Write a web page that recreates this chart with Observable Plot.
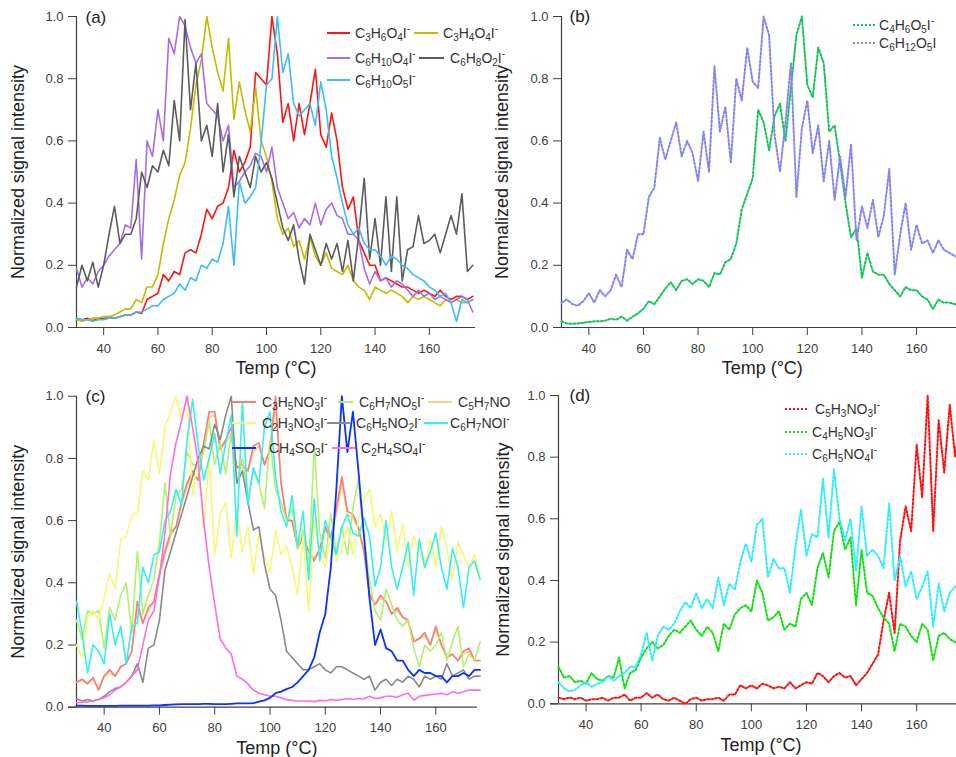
<!DOCTYPE html>
<html>
<head>
<meta charset="utf-8">
<script src="https://cdn.jsdelivr.net/npm/d3@7"></script>
<script src="https://cdn.jsdelivr.net/npm/@observablehq/plot@0.6"></script>
<style>
  body { margin: 0; background: #fff; }
  #fig { position: relative; width: 956px; height: 757px; overflow: hidden; background: #fff; }
  #fig > svg { position: absolute; }
</style>
</head>
<body>
<div id="fig"></div>
<script>
// Desorption temperature grid (°C)
const temp = [
  30, 32, 34, 36, 38, 40, 42, 44, 46, 48,
  50, 52, 54, 56, 58, 60, 62, 64, 66, 68,
  70, 72, 74, 76, 78, 80, 82, 84, 86, 88,
  90, 92, 94, 96, 98, 100, 102, 104, 106, 108,
  110, 112, 114, 116, 118, 120, 122, 124, 126, 128,
  130, 132, 134, 136, 138, 140, 142, 144, 146, 148,
  150, 152, 154, 156, 158, 160, 162, 164, 166, 168,
  170, 172, 174, 176
];
const xTicks = [40, 60, 80, 100, 120, 140, 160];
const yTicks = [0, 0.2, 0.4, 0.6, 0.8, 1.0];

// (a) CHO species
const a_C3H6O4I = [
  0.03, 0.025, 0.03, 0.022, 0.03, 0.028, 0.035, 0.03, 0.035, 0.04,
  0.04, 0.05, 0.045, 0.09, 0.1, 0.11, 0.17, 0.15, 0.18, 0.17,
  0.24, 0.25, 0.24, 0.3, 0.38, 0.35, 0.39, 0.4, 0.45, 0.57,
  0.5, 0.53, 0.58, 0.82, 0.8, 0.78, 1.0, 0.88, 0.66, 0.72,
  0.6, 0.72, 0.62, 0.72, 0.83, 0.62, 0.58, 0.69, 0.6, 0.45,
  0.38, 0.42, 0.28, 0.24, 0.2, 0.2, 0.15, 0.16, 0.15, 0.14,
  0.13, 0.13, 0.12, 0.11, 0.12, 0.11, 0.1, 0.12, 0.1, 0.09,
  0.1, 0.1, 0.09, 0.1
];
const a_C3H4O4I = [
  0.025, 0.02, 0.025, 0.03, 0.03, 0.035, 0.035, 0.04, 0.05, 0.06,
  0.06, 0.09, 0.08, 0.13, 0.13, 0.17, 0.27, 0.35, 0.41, 0.49,
  0.53, 0.64, 0.78, 0.86, 1.0, 0.9, 0.82, 0.76, 0.93, 0.67,
  0.79, 0.7, 0.63, 0.77, 0.6, 0.55, 0.47, 0.35, 0.3, 0.32,
  0.26, 0.28, 0.22, 0.29, 0.23, 0.2, 0.24, 0.19, 0.18, 0.17,
  0.2, 0.15, 0.13, 0.12, 0.09, 0.13, 0.12, 0.11, 0.12, 0.11,
  0.1, 0.08, 0.1, 0.09, 0.1, 0.09, 0.08, 0.07, 0.09, 0.08,
  0.09, 0.08, 0.08, 0.09
];
const a_C6H10O4I = [
  0.19, 0.13, 0.16, 0.14, 0.18, 0.2, 0.23, 0.25, 0.27, 0.33,
  0.32, 0.54, 0.22, 0.6, 0.55, 0.7, 0.6, 0.93, 0.88, 1.0,
  0.97, 0.9, 0.85, 0.88, 0.72, 0.7, 0.68, 0.6, 0.65, 0.45,
  0.47, 0.5, 0.52, 0.56, 0.55, 0.5, 0.58, 0.45, 0.4, 0.35,
  0.37, 0.32, 0.35, 0.33, 0.4, 0.33, 0.38, 0.4, 0.36, 0.35,
  0.3, 0.3, 0.28, 0.19, 0.14, 0.18, 0.15, 0.16, 0.13, 0.15,
  0.14, 0.12, 0.1, 0.12, 0.1, 0.11, 0.09, 0.1, 0.09, 0.08,
  0.09, 0.1, 0.09, 0.05
];
const a_C6H8O2I = [
  0.13, 0.2, 0.15, 0.21, 0.13, 0.2, 0.3, 0.39, 0.27, 0.3,
  0.3, 0.35, 0.5, 0.45, 0.52, 0.5, 0.57, 0.52, 0.73, 0.6,
  0.99, 0.7, 0.85, 0.6, 0.65, 0.55, 0.72, 0.5, 0.62, 0.42,
  0.55, 0.5, 0.45, 0.55, 0.5, 0.53, 0.48, 0.4, 0.32, 0.28,
  0.33, 0.22, 0.14, 0.3, 0.25, 0.2, 0.27, 0.22, 0.27, 0.18,
  0.28, 0.15, 0.3, 0.48, 0.22, 0.35, 0.2, 0.42, 0.18, 0.42,
  0.15, 0.25, 0.26, 0.36, 0.27, 0.28, 0.3, 0.24, 0.3, 0.36,
  0.3, 0.43, 0.18, 0.2
];
const a_C6H10O5I = [
  0.03, 0.025, 0.025, 0.02, 0.025, 0.025, 0.03, 0.03, 0.035, 0.04,
  0.04, 0.05, 0.05, 0.06, 0.07, 0.07, 0.09, 0.1, 0.11, 0.14,
  0.12, 0.16, 0.15, 0.2, 0.19, 0.22, 0.21, 0.27, 0.39, 0.2,
  0.47, 0.4, 0.42, 0.45, 0.59, 0.78, 0.8, 1.0, 0.82, 0.88,
  0.72, 0.68, 0.7, 0.72, 0.65, 0.79, 0.7, 0.55, 0.48, 0.4,
  0.33, 0.3, 0.32, 0.27, 0.25, 0.25, 0.23, 0.2, 0.23, 0.22,
  0.2, 0.19, 0.17, 0.16, 0.15, 0.13, 0.12, 0.1, 0.11, 0.08,
  0.02, 0.09, 0.08, 0.09
];

// (b) CHO species, dotted traces
const b_C4H6O5I = [
  0.02, 0.013, 0.012, 0.013, 0.015, 0.018, 0.02, 0.02, 0.022, 0.028,
  0.025, 0.035, 0.022, 0.035, 0.045, 0.06, 0.085, 0.075, 0.1, 0.125,
  0.145, 0.12, 0.15, 0.155, 0.14, 0.155, 0.15, 0.13, 0.175, 0.17,
  0.21, 0.22, 0.27, 0.38, 0.43, 0.48, 0.7, 0.66, 0.57, 0.68,
  0.72, 0.6, 0.77, 0.94, 1.0, 0.78, 0.74, 0.9, 0.85, 0.63,
  0.65, 0.53, 0.4, 0.29, 0.32, 0.16, 0.24, 0.18, 0.17, 0.17,
  0.14, 0.12, 0.1, 0.13, 0.12, 0.12, 0.1, 0.09, 0.06, 0.09,
  0.08, 0.08, 0.075, 0.075
];
const b_C6H12O5I = [
  0.08, 0.09, 0.075, 0.07, 0.085, 0.11, 0.08, 0.12, 0.1, 0.12,
  0.17, 0.13, 0.25, 0.22, 0.3, 0.3, 0.42, 0.45, 0.61, 0.54,
  0.6, 0.66, 0.55, 0.6, 0.56, 0.47, 0.63, 0.5, 0.84, 0.63,
  0.71, 0.53, 0.8, 0.73, 0.9, 0.79, 0.77, 1.0, 0.94, 0.62,
  0.5, 0.66, 0.85, 0.42, 0.64, 0.73, 0.56, 0.65, 0.47, 0.6,
  0.41, 0.55, 0.42, 0.59, 0.28, 0.39, 0.32, 0.41, 0.29, 0.36,
  0.51, 0.17, 0.3, 0.4, 0.25, 0.33, 0.27, 0.28, 0.24, 0.28,
  0.25, 0.24, 0.23, 0.22
];

// (c) CHON and CHOS species
const c_C3H5NO3I = [
  0.08, 0.09, 0.075, 0.095, 0.055, 0.1, 0.12, 0.1, 0.13, 0.14,
  0.18, 0.34, 0.27, 0.32, 0.34, 0.43, 0.5, 0.56, 0.58, 0.66,
  0.72, 0.76, 0.73, 0.85, 0.95, 0.95, 0.83, 0.86, 0.9, 0.77,
  0.78, 0.76, 0.84, 0.85, 0.78, 0.83, 1.0, 0.72, 0.6, 0.6,
  0.51, 0.55, 0.5, 0.47, 0.51, 0.58, 0.54, 0.64, 0.74, 0.63,
  0.62, 0.58, 0.5, 0.36, 0.33, 0.36, 0.34, 0.3, 0.32, 0.29,
  0.28, 0.21, 0.22, 0.24, 0.2, 0.26, 0.2, 0.16, 0.17, 0.15,
  0.18, 0.19, 0.15, 0.15
];
const c_C6H7NO5I = [
  0.28, 0.22, 0.31, 0.3, 0.31, 0.19, 0.32, 0.28, 0.36, 0.4,
  0.24, 0.5, 0.3, 0.36, 0.41, 0.53, 0.72, 0.55, 0.68, 0.7,
  0.82, 0.78, 0.78, 0.82, 0.92, 0.78, 0.85, 0.75, 0.88, 0.72,
  0.8, 0.67, 0.76, 0.72, 0.64, 0.86, 0.7, 0.66, 0.6, 0.64,
  0.51, 0.57, 0.45, 0.84, 0.56, 0.48, 0.62, 0.5, 0.58, 0.49,
  0.64, 0.73, 0.55, 0.41, 0.31, 0.28, 0.38, 0.33, 0.28, 0.26,
  0.28, 0.19, 0.13, 0.2, 0.18, 0.2, 0.24, 0.15, 0.21, 0.26,
  0.13, 0.17, 0.15, 0.21
];
const c_C5H7NO = [
  0.08, 0.085, 0.08, 0.09, 0.06, 0.1, 0.11, 0.1, 0.13, 0.14,
  0.18, 0.32, 0.27, 0.31, 0.34, 0.42, 0.49, 0.55, 0.58, 0.65,
  0.71, 0.75, 0.73, 0.84, 0.93, 0.94, 0.83, 0.85, 0.88, 0.77,
  0.77, 0.76, 0.82, 0.84, 0.78, 0.82, 0.97, 0.72, 0.61, 0.6,
  0.52, 0.55, 0.5, 0.48, 0.51, 0.57, 0.54, 0.62, 0.72, 0.62,
  0.61, 0.57, 0.5, 0.37, 0.33, 0.35, 0.34, 0.3, 0.31, 0.29,
  0.27, 0.22, 0.22, 0.23, 0.2, 0.25, 0.2, 0.17, 0.17, 0.15,
  0.17, 0.18, 0.15, 0.15
];
const c_C2H3NO3I = [
  0.2, 0.16, 0.29, 0.31, 0.28, 0.35, 0.43, 0.38, 0.54, 0.55,
  0.62, 0.62, 0.76, 0.73, 0.86, 0.75, 0.9, 0.95, 1.0, 0.93,
  1.0, 0.68, 0.8, 0.57, 0.8, 0.49, 0.62, 0.66, 0.48, 0.64,
  0.5, 0.58, 0.43, 0.56, 0.48, 0.43, 0.57, 0.49, 0.52, 0.45,
  0.36, 0.55, 0.31, 0.6, 0.49, 0.45, 0.55, 0.47, 0.51, 0.58,
  0.49, 0.6, 0.67, 0.7, 0.58, 0.62, 0.53, 0.63, 0.5, 0.59,
  0.45, 0.55, 0.5, 0.45, 0.54, 0.45, 0.58, 0.51, 0.41, 0.53,
  0.49, 0.45, 0.49, 0.42
];
const c_C6H5NO2I = [
  0.027, 0.02, 0.025, 0.02, 0.025, 0.035, 0.05, 0.06, 0.065, 0.08,
  0.1, 0.14, 0.08, 0.19, 0.2, 0.28, 0.44, 0.5, 0.56, 0.62,
  0.68, 0.74, 0.8, 0.84, 0.83, 0.91, 0.86, 0.94, 1.0, 0.72,
  0.76, 0.66, 0.57, 0.58, 0.46, 0.38, 0.36, 0.28, 0.18, 0.16,
  0.14, 0.12, 0.12, 0.13, 0.14, 0.12, 0.11, 0.13, 0.13, 0.12,
  0.11, 0.1, 0.09, 0.1, 0.055, 0.08, 0.09, 0.07, 0.09, 0.08,
  0.1, 0.09, 0.065, 0.1, 0.09, 0.1, 0.09, 0.14, 0.1, 0.11,
  0.12, 0.09, 0.1, 0.1
];
const c_C6H7NOI = [
  0.34, 0.24, 0.11, 0.2, 0.18, 0.14, 0.3, 0.2, 0.26, 0.14,
  0.26, 0.27, 0.45, 0.4, 0.49, 0.5, 0.6, 0.63, 0.7, 0.65,
  0.86, 0.99, 0.84, 0.73, 0.8, 0.88, 0.75, 0.85, 0.94, 0.55,
  0.98, 0.65, 0.77, 0.72, 0.9, 0.95, 0.74, 0.63, 0.58, 0.68,
  0.52, 0.63, 0.41, 0.67, 0.47, 0.6, 0.55, 0.49, 0.58, 0.62,
  0.56, 0.55, 0.61, 0.55, 0.39, 0.45, 0.6, 0.45, 0.38, 0.45,
  0.53, 0.36, 0.54, 0.45, 0.5, 0.56, 0.45, 0.38, 0.51, 0.45,
  0.32, 0.45, 0.47, 0.41
];
const c_CH4SO3I = [
  0.005, 0.005, 0.004, 0.004, 0.004, 0.004, 0.004, 0.004, 0.005, 0.005,
  0.005, 0.005, 0.005, 0.005, 0.006, 0.006, 0.007, 0.008, 0.009, 0.01,
  0.01, 0.01, 0.01, 0.011, 0.011, 0.01, 0.01, 0.01, 0.011, 0.012,
  0.012, 0.012, 0.013, 0.018, 0.022, 0.03, 0.045, 0.05, 0.058, 0.065,
  0.08, 0.1, 0.12, 0.16, 0.24, 0.3, 0.45, 0.7, 1.0, 0.82,
  0.95, 0.76, 0.55, 0.35, 0.2, 0.25, 0.19, 0.18, 0.15, 0.15,
  0.12, 0.1, 0.12, 0.11, 0.11, 0.1, 0.1, 0.08, 0.1, 0.1,
  0.11, 0.1, 0.12, 0.12
];
const c_C2H4SO4I = [
  0.015, 0.015, 0.018, 0.02, 0.025, 0.03, 0.04, 0.055, 0.065, 0.08,
  0.1, 0.12, 0.2, 0.28, 0.31, 0.42, 0.56, 0.75, 0.85, 0.92,
  1.0, 0.9, 0.79, 0.6, 0.45, 0.33, 0.22, 0.19, 0.17, 0.1,
  0.09, 0.075, 0.055, 0.045, 0.04, 0.035, 0.035, 0.03, 0.025, 0.022,
  0.02, 0.02, 0.02, 0.018, 0.022, 0.02, 0.025, 0.022, 0.025, 0.028,
  0.025, 0.028, 0.027, 0.035, 0.028, 0.03, 0.035, 0.035, 0.032, 0.04,
  0.045, 0.022, 0.035, 0.038, 0.04, 0.042, 0.045, 0.04, 0.05, 0.045,
  0.05, 0.055, 0.055, 0.055
];

// (d) CHON species, dotted traces
const d_C5H3NO3I = [
  0.02, 0.015, 0.02, 0.015, 0.02, 0.01, 0.015, 0.015, 0.02, 0.01,
  0.02, 0.02, 0.03, 0.01, 0.02, 0.02, 0.035, 0.02, 0.03, 0.015,
  0.01, 0.02, 0.01, 0.0, 0.015, 0.02, 0.01, 0.015, 0.015, 0.02,
  0.01, 0.03, 0.03, 0.06, 0.05, 0.06, 0.05, 0.065, 0.06, 0.05,
  0.055, 0.05, 0.07, 0.05, 0.06, 0.07, 0.065, 0.1, 0.09, 0.07,
  0.09, 0.1, 0.085, 0.09, 0.06, 0.08, 0.1, 0.13, 0.16, 0.27,
  0.36, 0.23, 0.53, 0.64, 0.56, 0.84, 0.67, 1.0, 0.56, 0.92,
  0.75, 0.97, 0.8, 0.94
];
const d_C4H5NO3I = [
  0.12, 0.085, 0.09, 0.07, 0.075, 0.065, 0.1, 0.08, 0.075, 0.09,
  0.085, 0.15, 0.05, 0.1, 0.11, 0.15, 0.18, 0.2, 0.18, 0.19,
  0.22, 0.24, 0.23, 0.25, 0.27, 0.24, 0.22, 0.25, 0.23, 0.17,
  0.26, 0.24, 0.29, 0.31, 0.32, 0.3, 0.4, 0.36, 0.27, 0.28,
  0.3, 0.24, 0.26, 0.25, 0.34, 0.36, 0.32, 0.44, 0.49, 0.41,
  0.56, 0.59, 0.5, 0.54, 0.32, 0.5, 0.36, 0.35, 0.31, 0.28,
  0.26, 0.17, 0.26, 0.25, 0.22, 0.2, 0.26, 0.24, 0.14, 0.22,
  0.23, 0.21, 0.2, 0.21
];
const d_C6H5NO4I = [
  0.07, 0.05, 0.04, 0.045, 0.06, 0.07, 0.055, 0.065, 0.07, 0.09,
  0.075, 0.09, 0.1, 0.12, 0.12, 0.16, 0.23, 0.14, 0.22, 0.25,
  0.24, 0.26, 0.3, 0.33, 0.31, 0.36, 0.31, 0.34, 0.31, 0.41,
  0.32, 0.39, 0.37, 0.46, 0.52, 0.46, 0.58, 0.6, 0.41, 0.47,
  0.44, 0.44, 0.36, 0.51, 0.63, 0.48, 0.55, 0.54, 0.73, 0.54,
  0.76, 0.6, 0.53, 0.6, 0.43, 0.64, 0.48, 0.5, 0.48, 0.44,
  0.65, 0.4, 0.48, 0.38, 0.43, 0.34, 0.38, 0.43, 0.25, 0.39,
  0.3, 0.36, 0.38, 0.37
];

const FONT = '"Liberation Sans", Arial, Helvetica, sans-serif';
const AXIS = "#404040";
const DOTS = "2,2";

// Writes a formula such as "C_3H_6O_4I^-" as text with sub/superscripts
function formula(textSel, label) {
  const tokens = label.match(/_\d+|\^-|[^_^]+/g);
  let cur = 0;
  for (const tok of tokens) {
    let shift = 0, size = null, str = tok;
    if (tok.startsWith("_")) { shift = 3.5; size = 10; str = tok.slice(1); }
    else if (tok === "^-") { shift = -6; size = 10; str = "-"; }
    const ts = textSel.append("tspan").attr("dy", shift - cur).text(str);
    if (size) ts.attr("font-size", size);
    cur = shift;
  }
}

function panel(p) {
  const marks = [
    Plot.ruleY([0], {stroke: AXIS, strokeWidth: 1.2, insetLeft: -8}),
    Plot.ruleX([30], {stroke: AXIS, strokeWidth: 1.2}),
    ...p.series.map(s => Plot.line(temp, {
      x: temp, y: s.values, stroke: s.color,
      strokeWidth: s.width || 1.6,
      strokeDasharray: s.dotted ? DOTS : undefined
    })),
    Plot.text([p.tag], {text: d => d, frameAnchor: "top-left", textAnchor: "start", lineAnchor: "middle",
      dx: p.tagDx, dy: p.tagDy, fontSize: 17, fill: "#222"}),
    Plot.text(["Temp (°C)"], {text: d => d, frameAnchor: "bottom", textAnchor: "middle", lineAnchor: "middle",
      dy: p.xTitleDy, fontSize: 18, fill: "#222"}),
    Plot.text(["Normalized signal intensity"], {text: d => d, frameAnchor: "left", rotate: -90,
      textAnchor: "middle", lineAnchor: "middle", dx: p.yTitleDx, fontSize: 18, fill: "#222"})
  ];
  const chart = Plot.plot({
    width: p.width, height: p.height,
    marginLeft: p.ml, marginRight: p.mr, marginTop: p.mt, marginBottom: p.mb,
    x: {domain: p.xDomain, ticks: xTicks, tickSize: 8, tickPadding: 8, label: null},
    y: {domain: [0, 1], ticks: yTicks, tickFormat: ".1f", tickSize: 8, tickPadding: 5, label: null},
    style: {fontFamily: FONT, fontSize: "13px", color: AXIS, background: "transparent", overflow: "visible"},
    marks
  });
  chart.style.left = p.left + "px";
  chart.style.top = p.top + "px";
  const g = d3.select(chart).append("g")
    .attr("font-family", FONT).attr("fill", "#333").attr("text-anchor", "start");
  for (const e of p.legend) {
    g.append("line")
      .attr("x1", e.x1).attr("x2", e.x2).attr("y1", e.y).attr("y2", e.y)
      .attr("stroke", e.color).attr("stroke-width", 2)
      .attr("stroke-dasharray", e.dotted ? DOTS : null);
    const t = g.append("text").attr("x", e.tx).attr("y", e.y + 4.8).attr("font-size", 14);
    formula(t, e.label);
  }
  document.getElementById("fig").appendChild(chart);
}

const col = {
  red: "#ff1414", olive: "#c4bc00", purple: "#a66ee6", dgray: "#5c5c5c", sky: "#3cbcf8",
  green: "#18c45a", violet: "#8585f2",
  salmon: "#f87c78", lime: "#b4f070", orange: "#ffcc80", yellow: "#f8f878",
  gray: "#8a8a8a", cyan: "#38eef0", blue: "#0a32ff", pink: "#ff6ee0",
  dred: "#ff1010", dgreen: "#14e014", dcyan: "#30eeff"
};

// (a)
panel({
  left: 0, top: 0, width: 480, height: 380, ml: 76, mr: 5, mt: 16, mb: 53,
  xDomain: [30, 177], tag: "(a)", tagDx: 9, tagDy: 1, xTitleDy: 41, yTitleDx: -58,
  series: [
    {values: a_C3H6O4I, color: col.red},
    {values: a_C3H4O4I, color: col.olive},
    {values: a_C6H10O4I, color: col.purple},
    {values: a_C6H8O2I, color: col.dgray},
    {values: a_C6H10O5I, color: col.sky}
  ],
  legend: [
    {label: "C_3H_6O_4I^-", color: col.red, x1: 327, x2: 350, tx: 355, y: 33},
    {label: "C_3H_4O_4I^-", color: col.olive, x1: 414, x2: 438, tx: 443, y: 33},
    {label: "C_6H_10O_4I^-", color: col.purple, x1: 327, x2: 350, tx: 355, y: 58},
    {label: "C_6H_8O_2I^-", color: col.dgray, x1: 419, x2: 444, tx: 450, y: 58},
    {label: "C_6H_10O_5I^-", color: col.sky, x1: 327, x2: 350, tx: 355, y: 80}
  ]
});

// (b)
panel({
  left: 480, top: 0, width: 490, height: 380, ml: 81, mr: 7.5, mt: 16, mb: 53,
  xDomain: [30, 177], tag: "(b)", tagDx: 8, tagDy: 0, xTitleDy: 41, yTitleDx: -59,
  series: [
    {values: b_C4H6O5I, color: col.green, dotted: true, width: 2},
    {values: b_C6H12O5I, color: col.violet, dotted: true, width: 2}
  ],
  legend: [
    {label: "C_4H_6O_5I^-", color: col.green, dotted: true, x1: 373, x2: 397, tx: 399, y: 25},
    {label: "C_6H_12O_5I", color: col.violet, dotted: true, x1: 373, x2: 397, tx: 399, y: 43}
  ]
});

// (d)
panel({
  left: 480, top: 380, width: 490, height: 377, ml: 78, mr: 7, mt: 15, mb: 53.7,
  xDomain: [30, 177], tag: "(d)", tagDx: 11, tagDy: 0, xTitleDy: 41.7, yTitleDx: -55,
  series: [
    {values: d_C5H3NO3I, color: col.dred, dotted: true, width: 2},
    {values: d_C4H5NO3I, color: col.dgreen, dotted: true, width: 2},
    {values: d_C6H5NO4I, color: col.dcyan, dotted: true, width: 2}
  ],
  legend: [
    {label: "C_5H_3NO_3I^-", color: col.dred, dotted: true, x1: 305, x2: 328, tx: 335, y: 29},
    {label: "C_4H_5NO_3I^-", color: col.dgreen, dotted: true, x1: 305, x2: 328, tx: 332, y: 52},
    {label: "C_6H_5NO_4I^-", color: col.dcyan, dotted: true, x1: 305, x2: 328, tx: 332, y: 74}
  ]
});

// (c)
panel({
  left: 0, top: 380, width: 507, height: 377, ml: 76, mr: 30.2, mt: 15.7, mb: 50.3,
  xDomain: [30, 175], tag: "(c)", tagDx: 9, tagDy: 0.3, xTitleDy: 41.3, yTitleDx: -58,
  series: [
    {values: c_C5H7NO, color: col.orange},
    {values: c_C3H5NO3I, color: col.salmon},
    {values: c_C6H7NO5I, color: col.lime},
    {values: c_C2H3NO3I, color: col.yellow},
    {values: c_C6H5NO2I, color: col.gray},
    {values: c_C6H7NOI, color: col.cyan},
    {values: c_C2H4SO4I, color: col.pink},
    {values: c_CH4SO3I, color: col.blue, width: 1.8}
  ],
  legend: [
    {label: "C_3H_5NO_3I^-", color: col.salmon, x1: 232, x2: 256, tx: 262, y: 22},
    {label: "C_6H_7NO_5I^-", color: col.lime, x1: 338, x2: 353, tx: 359, y: 22},
    {label: "C_5H_7NO", color: col.orange, x1: 428, x2: 452, tx: 458, y: 22},
    {label: "C_2H_3NO_3I^-", color: col.yellow, x1: 232, x2: 256, tx: 262, y: 43},
    {label: "C_6H_5NO_2I^-", color: col.gray, x1: 327, x2: 350, tx: 356, y: 43},
    {label: "C_6H_7NOI^-", color: col.cyan, x1: 424, x2: 448, tx: 450, y: 43},
    {label: "CH_4SO_3I^-", color: col.blue, x1: 232, x2: 256, tx: 269, y: 68},
    {label: "C_2H_4SO_4I^-", color: col.pink, x1: 332, x2: 355, tx: 361, y: 68}
  ]
});
</script>
</body>
</html>
